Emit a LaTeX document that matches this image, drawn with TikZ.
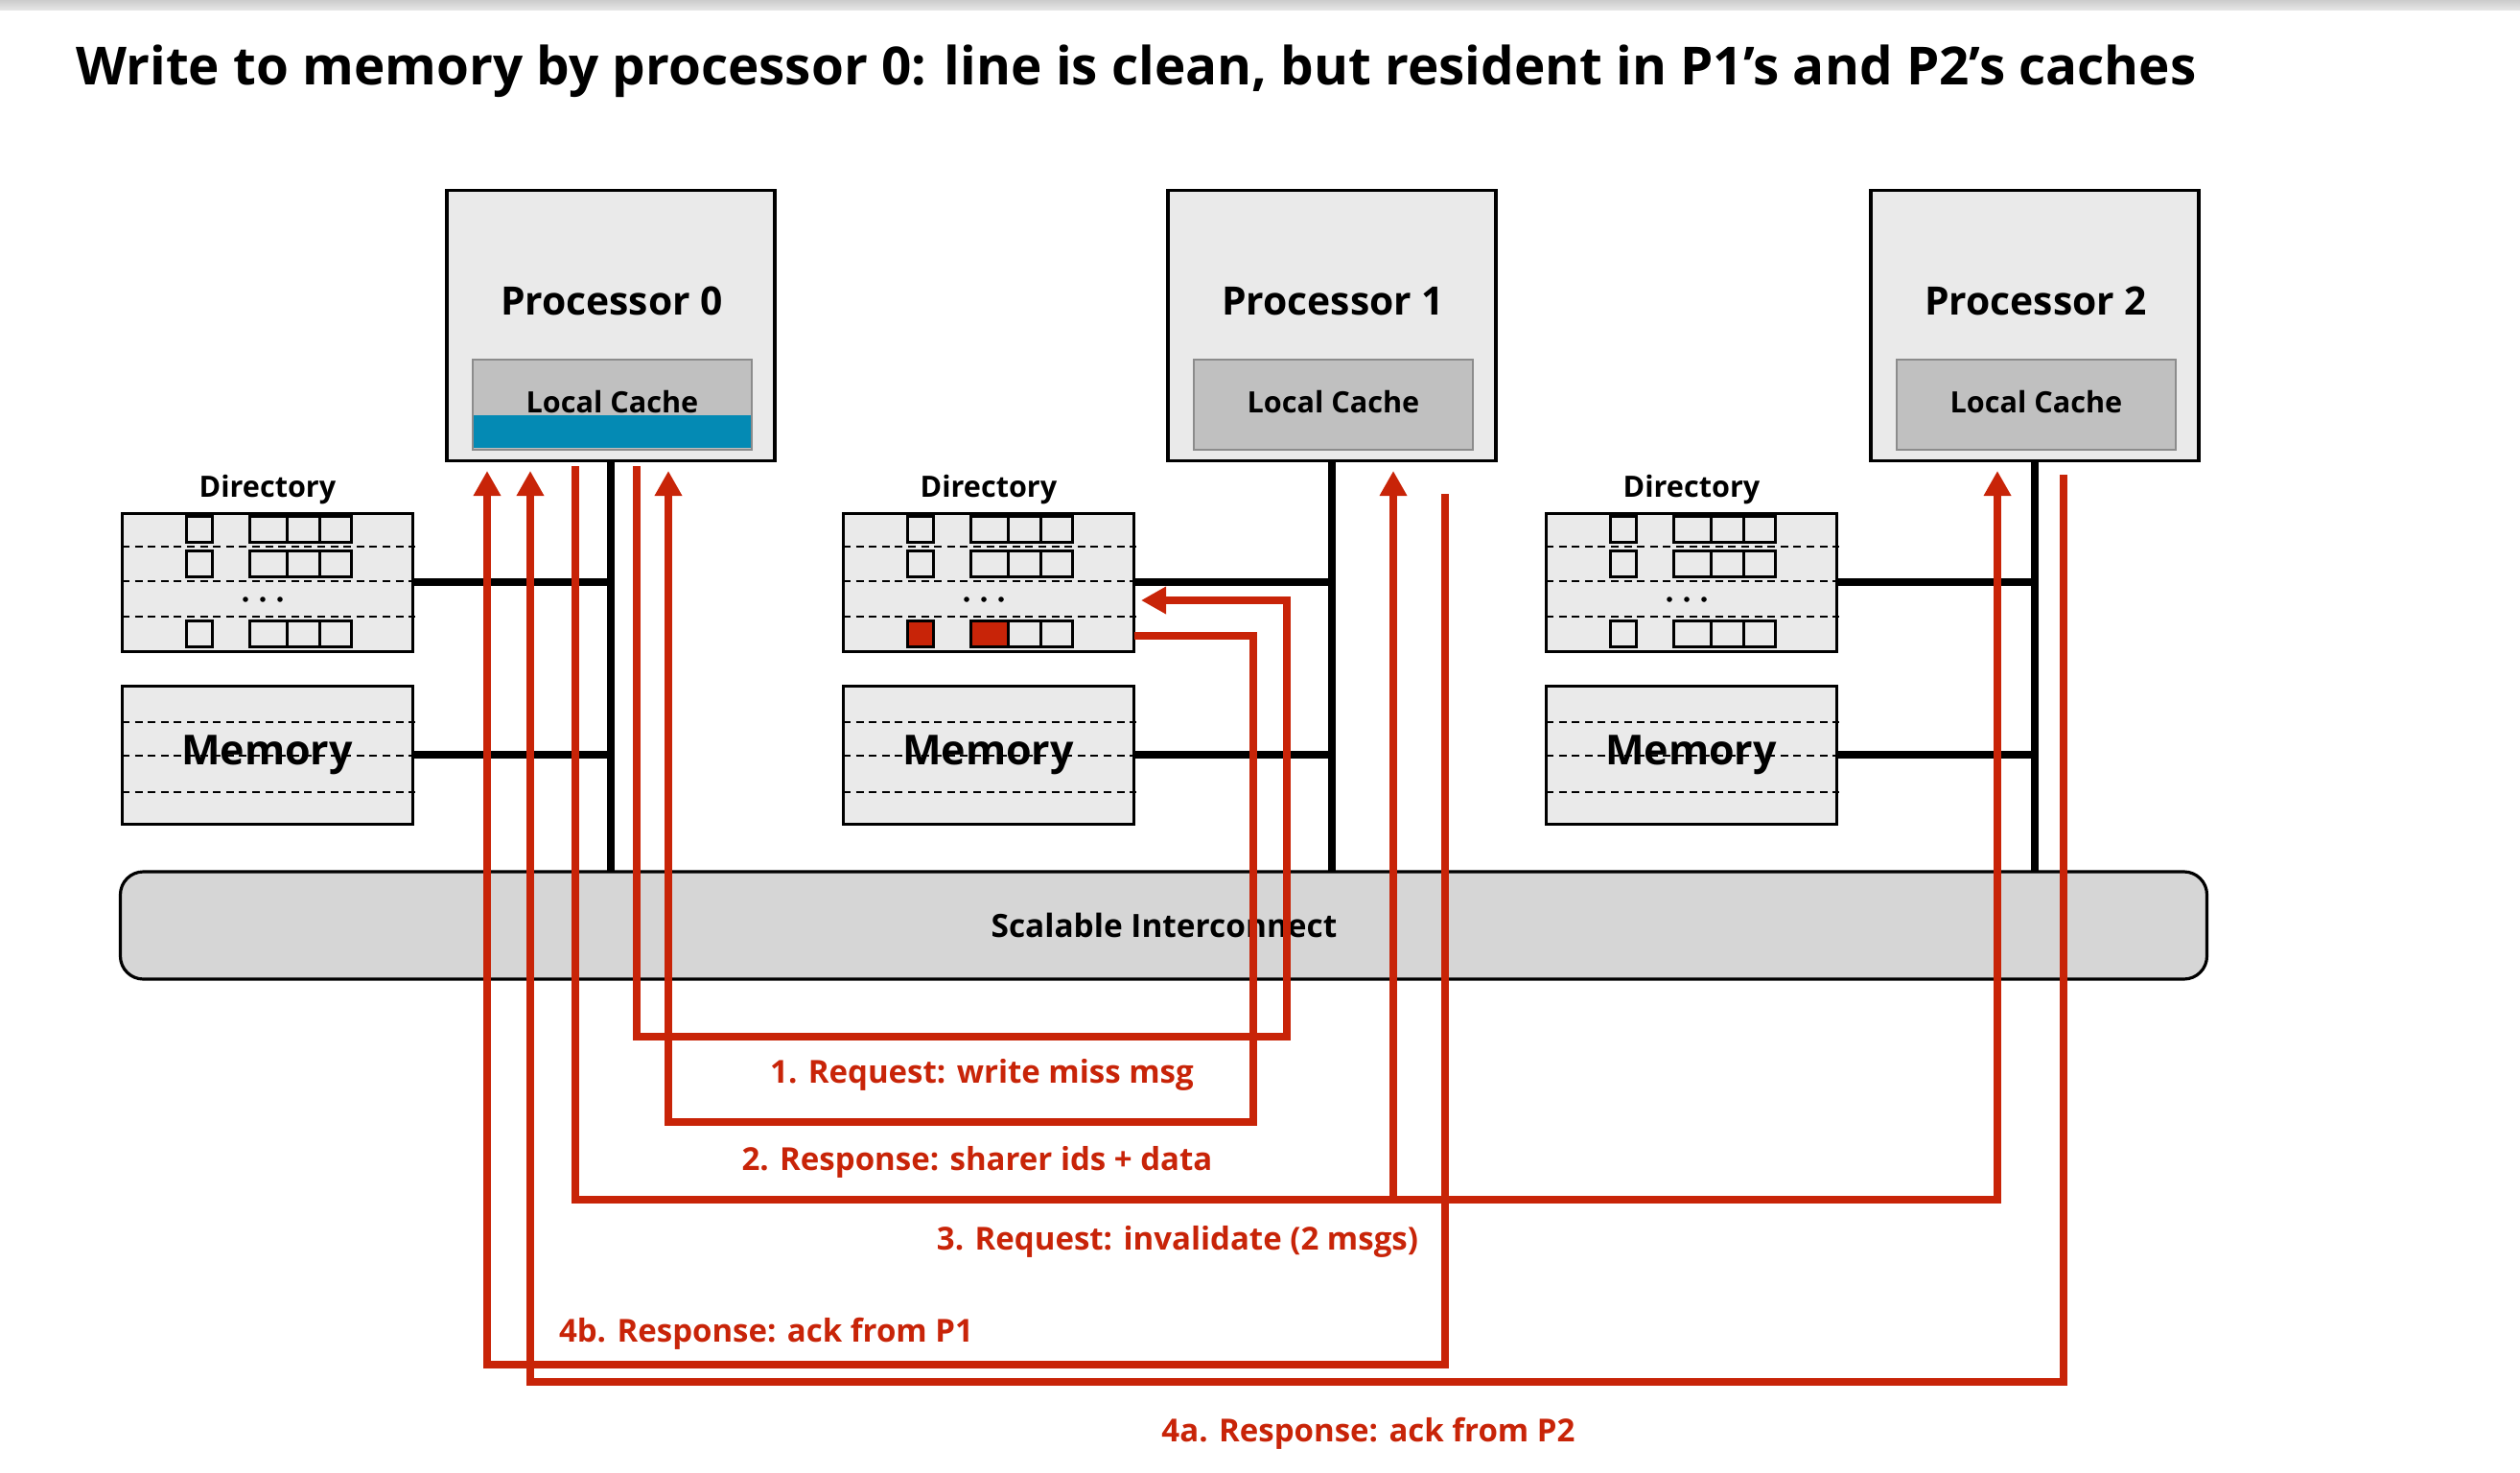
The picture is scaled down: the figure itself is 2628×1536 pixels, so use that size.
\documentclass[tikz,border=0pt]{standalone}
\usepackage{fontspec}
\setmainfont{Open Sans}
\usetikzlibrary{arrows.meta,calc}
\definecolor{redc}{RGB}{200,36,8}
\definecolor{procfill}{RGB}{234,234,234}
\definecolor{cachefill}{RGB}{192,192,192}
\definecolor{cacheborder}{RGB}{140,140,140}
\definecolor{blueband}{RGB}{4,138,180}
\definecolor{icfill}{RGB}{214,214,214}
\begin{document}
\begin{tikzpicture}[x=0.5pt,y=-0.5pt,
  procbox/.style={draw=black,line width=1.6pt,fill=procfill,inner sep=0,outer sep=0,minimum width=171pt,minimum height=141pt},
  cachebox/.style={draw=cacheborder,line width=0.8pt,fill=cachefill,inner sep=0,outer sep=0,minimum width=145.5pt,minimum height=47pt},
  dirbox/.style={draw=black,line width=1.5pt,fill=procfill,inner sep=0,outer sep=0,minimum width=151.5pt,minimum height=72pt},
  icbox/.style={draw=black,line width=1.6pt,fill=icfill,rounded corners=12pt,inner sep=0,outer sep=0,minimum width=1088pt,minimum height=56pt},
  blk/.style={draw=black,line width=3.7pt},
  dashline/.style={draw=black,line width=1.1pt,dash pattern=on 4pt off 2.8pt},
  cell/.style={draw=black,line width=1.5pt},
  redline/.style={draw=redc,line width=4.2pt},
  redarrow/.style={redline,-{Triangle[width=13.5pt,length=13pt]}},
  ttl/.style={font=\fontsize{27.4pt}{32pt}\selectfont\bfseries},
  plabel/.style={font=\fontsize{20.4pt}{24pt}\selectfont\bfseries},
  clabel/.style={font=\fontsize{15.3pt}{18pt}\selectfont\bfseries},
  iclabel/.style={font=\fontsize{16.7pt}{19pt}\selectfont\bfseries},
  mlabel/.style={font=\fontsize{21.5pt}{24pt}\selectfont\bfseries},
  rlabel/.style={font=\fontsize{16.5pt}{19pt}\selectfont\bfseries,text=redc},
  txt/.style={inner sep=0,outer sep=0}
]
\useasboundingbox (0,0) rectangle (2628,1536);
\fill[top color=gray!40,bottom color=gray!18] (0,0) rectangle (2628,11);

% title
\node[txt,ttl,anchor=base west] (title) at (79,89) {Write to memory by processor 0: line is clean, but resident in P1’s and P2’s caches};

% interconnect
\node[icbox] (IC) at (1213.5,965) {};
\node[txt,iclabel,anchor=base] (IClbl) at (1214,977) {Scalable Interconnect};

\foreach \i/\dx in {0/0,1/752,2/1485} {
  \begin{scope}[shift={(\dx,0)}]
    \node[procbox] (P\i) at (637,339.5) {};
    \node[cachebox] (C\i) at (638.5,422) {};
    \node[txt,plabel,anchor=base] (P\i lbl) at (638,328) {Processor \i};
    \node[dirbox] (D\i) at (278.5,607) {};
    \node[dirbox] (M\i) at (278.5,787) {};
    \node[txt,clabel,anchor=base] (D\i lbl) at (279,518) {Directory};
    % directory internals
    \foreach \yy in {570,606,643} \draw[dashline] (127,\yy) -- (433,\yy);
    \foreach \ya/\yb in {538/565,574/601,647/674} {
      \draw[cell] (194,\ya) rectangle (221,\yb);
      \draw[cell] (260,\ya) rectangle (366,\yb);
      \draw[cell] (299,\ya) -- (299,\yb);
      \draw[cell] (333,\ya) -- (333,\yb);
    }
    \foreach \xx in {256,274,292} \fill[black] (\xx,625) circle (1.4pt);
    % memory internals
    \foreach \yy in {753,788,826} \draw[dashline] (127,\yy) -- (433,\yy);
    \node[txt,mlabel,anchor=base] (M\i lbl) at (278.5,797) {Memory};
  \end{scope}
  \draw[blk] (P\i.south) -- (P\i.south |- IC.north);
  \draw[blk] (D\i.east) -- ([xshift=1.5pt]D\i.east -| P\i.south);
  \draw[blk] (M\i.east) -- (M\i.east -| P\i.south);
}

% blue band in P0's cache and the cache labels
\node[txt,fill=blueband,minimum width=144.5pt,minimum height=17pt,anchor=north west] (blue) at (494,433) {};
\foreach \i/\dx in {0/0,1/752,2/1485} {
  \node[txt,clabel,anchor=base] (C\i lbl) at ($(638.5,430)+(\dx,0)$) {Local Cache};
}

% red cells in P1's directory
\fill[redc] (194+752,647) rectangle (221+752,674);
\fill[redc] (260+752,647) rectangle (299+752,674);
\draw[cell] (194+752,647) rectangle (221+752,674);
\draw[cell] (260+752,647) rectangle (366+752,674);
\draw[cell] (299+752,647) -- (299+752,674);
\draw[cell] (333+752,647) -- (333+752,674);

% connector end points
\coordinate (s1) at (664,486);
\coordinate (s3) at (600,486);
\coordinate (s4b) at (1507,515);
\coordinate (s4a) at (2152,495);
\coordinate (t2) at (697,491);
\coordinate (t4b) at (508,491);
\coordinate (t4a) at (553,491);
\coordinate (t3a) at (1453,491);
\coordinate (t3b) at (2083,491);
\coordinate (d1) at (1190,626);
\coordinate (d2) at (1183,663);

% 1. request
\draw[redarrow] (s1) -- (664,1081) -- (1342,1081) -- (1342,626) -- (d1);
% 2. response
\draw[redarrow] (d2) -- (1307,663) -- (1307,1170) -- (697,1170) -- (t2);
% 3. invalidate
\draw[redarrow] (s3) -- (600,1251) -- (2083,1251) -- (t3b);
\draw[redarrow] (1453,1251) -- (t3a);
% 4b
\draw[redarrow] (s4b) -- (1507,1423) -- (508,1423) -- (t4b);
% 4a
\draw[redarrow] (s4a) -- (2152,1441) -- (553,1441) -- (t4a);

% labels
\node[txt,rlabel,anchor=base] (l1) at (1024,1129) {1. Request: write miss msg};
\node[txt,rlabel,anchor=base] (l2) at (1019,1220) {2. Response: sharer ids + data};
\node[txt,rlabel,anchor=base] (l3) at (1228,1303) {3. Request: invalidate (2 msgs)};
\node[txt,rlabel,anchor=base] (l4b) at (799,1399) {4b. Response: ack from P1};
\node[txt,rlabel,anchor=base] (l4a) at (1427,1503) {4a. Response: ack from P2};
\end{tikzpicture}
\end{document}
